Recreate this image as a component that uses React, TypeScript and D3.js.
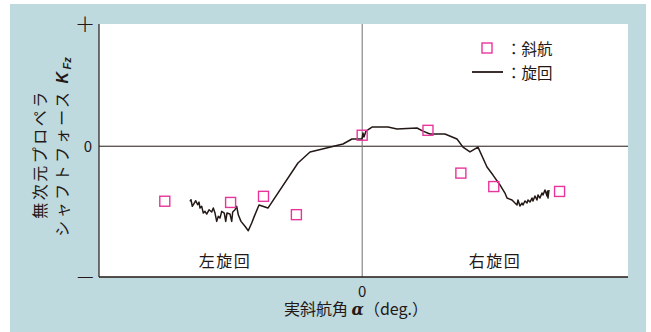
import * as d3 from "d3";

// 斜航 (oblique towing) measurements
const obliqueAngles = [-30, -20, -15, -10, 0, 10, 15, 20, 30];
const obliqueKfz = [-0.45, -0.46, -0.41, -0.56, 0.09, 0.13, -0.22, -0.33, -0.37];

// 旋回 (turning) trace
const turnAngles = [
  -26.17, -26.02, -25.82, -25.52, -25.3, -25.0, -24.8, -24.65, -24.39, -24.15,
  -23.89, -23.63, -23.28, -22.87, -22.63, -22.37, -22.11, -21.87, -21.61, -21.35,
  -20.96, -20.74, -20.55, -20.09, -19.83, -19.68, -19.33, -19.07, -18.83, -18.42,
  -17.81, -17.31, -16.79, -16.4, -15.68, -14.32, -9.76, -7.93, -2.92, -1.55,
  -0.33, -0.03, 0.12, 0.27, 0.58, 1.49, 3.92, 5.29, 8.33, 9.24,
  10.3, 12.58, 14.41, 15.32, 16.38, 17.6, 18.97, 19.88, 20.94, 21.7,
  22.01, 22.77, 23.22, 23.53, 23.68, 23.98, 24.29, 24.44, 24.74, 25.05,
  25.2, 25.5, 25.81, 25.96, 26.26, 26.56, 26.72, 27.02, 27.33, 27.48,
  27.78, 28.09, 28.16, 28.24, 28.39,
];
const turnKfz = [
  -0.451, -0.438, -0.492, -0.465, -0.446, -0.479, -0.457, -0.506, -0.492, -0.547,
  -0.533, -0.555, -0.52, -0.538, -0.506, -0.547, -0.615, -0.574, -0.588, -0.533,
  -0.547, -0.615, -0.547, -0.555, -0.615, -0.538, -0.52, -0.492, -0.561, -0.615,
  -0.655, -0.691, -0.628, -0.574, -0.481, -0.506, -0.137, -0.047, 0.018, 0.059,
  0.059, 0.059, 0.108, 0.075, 0.124, 0.157, 0.157, 0.141, 0.149, 0.124,
  0.1, 0.1, 0.059, -0.007, -0.047, -0.007, -0.17, -0.236, -0.317, -0.383,
  -0.424, -0.44, -0.465, -0.481, -0.44, -0.489, -0.465, -0.481, -0.448, -0.465,
  -0.44, -0.457, -0.424, -0.448, -0.407, -0.44, -0.399, -0.424, -0.383, -0.399,
  -0.358, -0.407, -0.366, -0.424, -0.358,
];

const xDomain = [-40, 40.4];
const yDomain = [-1.07, 1];
const yTickLabels = ["+", "0", "−"];

const BG = "#bedadf";
const MAGENTA = "#e8359a";
const INK = "#231815";
const JP = "'Noto Sans CJK JP', 'Noto Sans', sans-serif";

export default function App() {
  const width = 651;
  const height = 332;
  const plot = { left: 99, right: 628, top: 24, bottom: 277 };

  const x = d3.scaleLinear().domain(xDomain).range([plot.left, plot.right]);
  const y = d3.scaleLinear().domain(yDomain).range([plot.bottom, plot.top]);

  const turnData = turnAngles.map((a, i) => [a, turnKfz[i]] as [number, number]);
  const line = d3
    .line<[number, number]>()
    .x((d) => x(d[0]))
    .y((d) => y(d[1]));

  const yTicks = [yDomain[1], 0, yDomain[0]];
  const sq = 10;

  return (
    <svg
      width={width}
      height={height}
      style={{ position: "absolute", left: 0, top: 0 }}
      fontFamily={JP}
    >
      <rect x={10} y={4} width={636} height={328} fill={BG} />
      <rect
        x={plot.left}
        y={plot.top}
        width={plot.right - plot.left}
        height={plot.bottom - plot.top}
        fill="#fff"
      />

      {/* zero lines */}
      <line x1={plot.left} x2={plot.right} y1={y(0)} y2={y(0)} stroke={INK} strokeWidth={1} />
      <line x1={x(0)} x2={x(0)} y1={plot.top} y2={plot.bottom} stroke="#6e6e6e" strokeWidth={1} />

      {/* axes */}
      <line x1={plot.left} x2={plot.left} y1={plot.top} y2={plot.bottom} stroke={INK} strokeWidth={1.2} />
      <line x1={plot.left} x2={plot.right} y1={plot.bottom} y2={plot.bottom} stroke={INK} strokeWidth={1.6} />

      {/* y tick labels */}
      {yTicks.map((t, i) =>
        i === 1 ? (
          <text key={i} x={92} y={y(t) + 5.5} textAnchor="end" fontSize={15} fill={INK}>
            {yTickLabels[i]}
          </text>
        ) : (
          <text
            key={i}
            x={85}
            y={y(t) + 8}
            textAnchor="middle"
            fontSize={24}
            fontFamily="'DejaVu Sans', sans-serif"
            fontWeight={300}
            fill={INK}
          >
            {yTickLabels[i]}
          </text>
        )
      )}

      {/* x tick label */}
      <text x={x(0)} y={297} textAnchor="middle" fontSize={15} fill={INK}>
        0
      </text>

      {/* turning trace */}
      <path d={line(turnData) ?? ""} fill="none" stroke={INK} strokeWidth={1.5} strokeLinejoin="round" />

      {/* oblique squares */}
      {obliqueAngles.map((a, i) => (
        <rect
          key={i}
          x={x(a) - sq / 2}
          y={y(obliqueKfz[i]) - sq / 2}
          width={sq}
          height={sq}
          fill="none"
          stroke={MAGENTA}
          strokeWidth={1.4}
        />
      ))}

      {/* region labels */}
      <text x={225} y={267} textAnchor="middle" fontSize={16} letterSpacing={1.5} fill={INK}>
        左旋回
      </text>
      <text x={495} y={267} textAnchor="middle" fontSize={16} letterSpacing={1.5} fill={INK}>
        右旋回
      </text>

      {/* legend */}
      <rect x={482} y={43} width={sq} height={sq} fill="none" stroke={MAGENTA} strokeWidth={1.4} />
      <text x={506} y={55} fontSize={15.5} fill={INK}>
        ：斜航
      </text>
      <line x1={472} x2={503} y1={72} y2={72} stroke={INK} strokeWidth={1.8} />
      <text x={506} y={79} fontSize={15.5} fill={INK}>
        ：旋回
      </text>

      {/* x axis title */}
      <text x={356} y={315} textAnchor="middle" fontSize={16} fill={INK}>
        実斜航角{" "}
        <tspan fontStyle="italic" fontWeight="bold" fontFamily="'DejaVu Serif', serif">
          α
        </tspan>
        （deg.）
      </text>

      {/* y axis title */}
      <g transform="translate(46,154) rotate(-90)">
        <text x={0} y={0} textAnchor="middle" fontSize={16} letterSpacing={2.5} fill={INK}>
          無次元プロペラ
        </text>
      </g>
      <g transform="translate(68,147) rotate(-90)">
        <text x={0} y={0} textAnchor="middle" fontSize={16} letterSpacing={2.5} fill={INK}>
          シャフトフォース{" "}
          <tspan fontStyle="italic" fontWeight="bold" fontFamily="'Liberation Sans', sans-serif">
            K
          </tspan>
          <tspan
            fontStyle="italic"
            fontWeight="bold"
            fontFamily="'Liberation Sans', sans-serif"
            fontSize={11}
            dy={3}
            letterSpacing={0}
          >
            Fz
          </tspan>
        </text>
      </g>
    </svg>
  );
}
